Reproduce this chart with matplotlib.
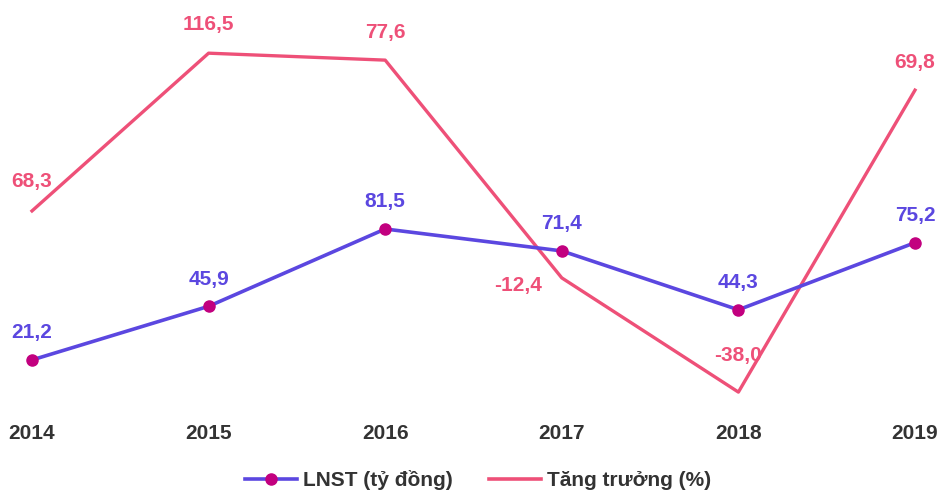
import matplotlib.pyplot as plt

plt.rcParams['font.family'] = ['Liberation Sans', 'DejaVu Sans']

nam = ["2014", "2015", "2016", "2017", "2018", "2019"]
lnst = [21.2, 45.9, 81.5, 71.4, 44.3, 75.2]
# nhãn tăng trưởng (%) như trên biểu đồ
tang_truong = [68.3, 116.5, 77.6, -12.4, -38.0, 69.8]
# vị trí đường tăng trưởng (thang trục phụ 0-100)
tang_truong_ve = [53.3, 96.4, 94.5, 35.0, 3.8, 86.3]

tim = "#5B47E0"
hong = "#EE5078"
diem = "#C2007F"

fig = plt.figure(figsize=(9.4, 4.92), dpi=100)
ax = fig.add_axes([32 / 940, 86 / 492, 883 / 940, 366 / 492])
ax2 = ax.twinx()

x = list(range(len(nam)))

ax2.plot(x, tang_truong_ve, color=hong, lw=2.4, clip_on=False, zorder=2)
ax.plot(x, lnst, color=tim, lw=2.6, marker="o", markersize=8,
        markerfacecolor=diem, markeredgecolor=diem, clip_on=False, zorder=3)
ax.set_zorder(ax2.get_zorder() + 1)
ax.patch.set_visible(False)

ax.set_xlim(0, 5)
ax.set_ylim(0, 366 / 2.172)
ax2.set_ylim(0, 100)

def fmt(v):
    return f"{v:.1f}".replace(".", ",")

for i, v in enumerate(lnst):
    ax.annotate(fmt(v), (i, v), xytext=(0, 19.5), textcoords="offset points",
                ha="center", va="center", color=tim, fontsize=15, fontweight="bold")

lech = [(0, 29), (0, 29), (0, 28), (-44, -8), (0, 37), (0, 28)]
for i, v in enumerate(tang_truong_ve):
    dx, dy = lech[i]
    ax2.annotate(fmt(tang_truong[i]), (i, v), xytext=(dx * 0.72, dy * 0.72),
                 textcoords="offset points", ha="center", va="center",
                 color=hong, fontsize=15, fontweight="bold")

for a in (ax, ax2):
    for s in a.spines.values():
        s.set_visible(False)
    a.set_yticks([])
ax.set_xticks(x)
ax.set_xticklabels(nam, fontsize=15, fontweight="bold", color="#333333")
ax.tick_params(axis="x", length=0, pad=13)

h1, = ax.plot([], [], color=tim, lw=2.6, marker="o", markersize=8,
              markerfacecolor=diem, markeredgecolor=diem)
h2, = ax.plot([], [], color=hong, lw=2.6)
fig.legend([h1, h2], ["LNST (tỷ đồng)", "Tăng trưởng (%)"], loc="center",
           bbox_to_anchor=(0.5 + 8 / 940, 12 / 492), ncol=2, frameon=False,
           prop={"size": 15, "weight": "bold"}, labelcolor="#333333",
           handlelength=2.5, columnspacing=1.7, handletextpad=0.3)

fig.savefig("out.png", dpi=100)
